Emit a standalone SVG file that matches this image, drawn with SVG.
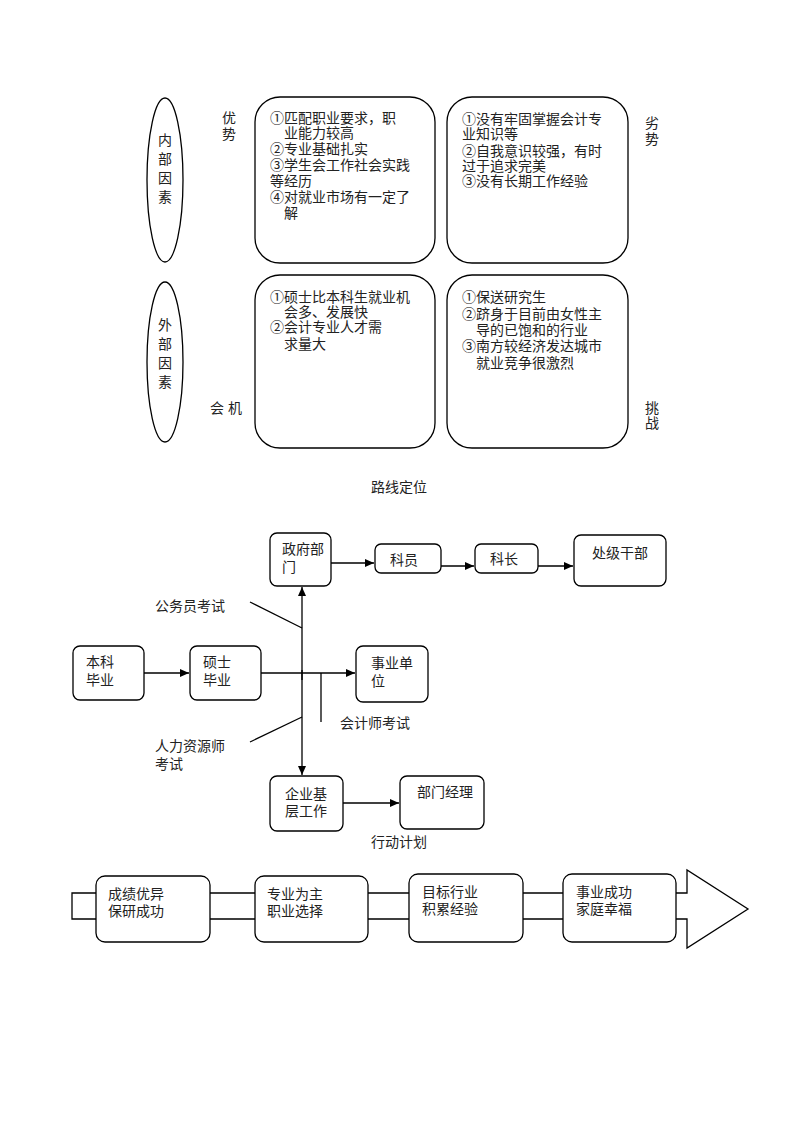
<svg xmlns="http://www.w3.org/2000/svg" width="800" height="1132" viewBox="0 0 800 1132">
<style>
text{font-family:"Liberation Sans","Noto Sans CJK SC",sans-serif;font-size:14px;fill:#222}
.b{fill:#fff;stroke:#000;stroke-width:1.3}
.l{stroke:#000;stroke-width:1.3;fill:none}
</style>
<defs><marker id="a" markerWidth="10" markerHeight="10" refX="9" refY="5" orient="auto" markerUnits="userSpaceOnUse"><path d="M0,1 L9,5 L0,9z" fill="#000"/></marker></defs>
<rect width="800" height="1132" fill="#fff"/>
<g id="internal"><ellipse class="b" cx="165" cy="180" rx="18" ry="82"/><text x="158" y="145">内</text><text x="158" y="164">部</text><text x="158" y="183">因</text><text x="158" y="202">素</text></g>
<g id="external"><ellipse class="b" cx="165" cy="362" rx="18" ry="80"/><text x="158" y="330">外</text><text x="158" y="349">部</text><text x="158" y="368">因</text><text x="158" y="387">素</text></g>
<g id="labels"><text x="222" y="123">优</text><text x="222" y="139">势</text><text x="645" y="128">劣</text><text x="645" y="144">势</text><text x="210" y="413">会 机</text><text x="645" y="413">挑</text><text x="645" y="428">战</text></g>
<g id="s"><rect class="b" x="255" y="97" width="180" height="166" rx="25"/><text x="270" y="123">①匹配职业要求，职</text><text x="284" y="138">业能力较高</text><text x="270" y="154">②专业基础扎实</text><text x="270" y="170">③学生会工作社会实践</text><text x="270" y="186">等经历</text><text x="270" y="202">④对就业市场有一定了</text><text x="284" y="218">解</text></g>
<g id="w"><rect class="b" x="447" y="97" width="181" height="166" rx="25"/><text x="462" y="124">①没有牢固掌握会计专</text><text x="462" y="139">业知识等</text><text x="462" y="156">②自我意识较强，有时</text><text x="462" y="171">过于追求完美</text><text x="462" y="186">③没有长期工作经验</text></g>
<g id="o"><rect class="b" x="255" y="275" width="180" height="173" rx="25"/><text x="270" y="302">①硕士比本科生就业机</text><text x="284" y="317">会多、发展快</text><text x="270" y="332">②会计专业人才需</text><text x="284" y="349">求量大</text></g>
<g id="t"><rect class="b" x="447" y="275" width="181" height="173" rx="25"/><text x="462" y="302">①保送研究生</text><text x="462" y="319">②跻身于目前由女性主</text><text x="476" y="335">导的已饱和的行业</text><text x="462" y="351">③南方较经济发达城市</text><text x="476" y="368">就业竞争很激烈</text></g>
<text x="371" y="492">路线定位</text>
<g id="connectors">
<line class="l" x1="331" y1="563" x2="374" y2="563" marker-end="url(#a)"/>
<line class="l" x1="441" y1="566" x2="474" y2="566" marker-end="url(#a)"/>
<line class="l" x1="538" y1="566" x2="573" y2="566" marker-end="url(#a)"/>
<line class="l" x1="144" y1="673" x2="189" y2="673" marker-end="url(#a)"/>
<line class="l" x1="261" y1="673" x2="355" y2="673" marker-end="url(#a)"/>
<line class="l" x1="302" y1="680" x2="302" y2="587" marker-end="url(#a)"/>
<line class="l" x1="302" y1="670" x2="302" y2="775" marker-end="url(#a)"/>
<line class="l" x1="321" y1="673" x2="321" y2="722"/>
<line class="l" x1="250" y1="602" x2="302" y2="628"/>
<line class="l" x1="250" y1="742" x2="302" y2="717"/>
<line class="l" x1="343" y1="803" x2="399" y2="803" marker-end="url(#a)"/>
</g>
<g id="gov"><rect class="b" x="270" y="533" width="61" height="53" rx="7"/><text x="282" y="554">政府部</text><text x="282" y="572">门</text></g>
<g id="ky"><rect class="b" x="375" y="544" width="66" height="29" rx="6"/><text x="390" y="565">科员</text></g>
<g id="kz"><rect class="b" x="475" y="544" width="63" height="29" rx="6"/><text x="490" y="564">科长</text></g>
<g id="cj"><rect class="b" x="574" y="535" width="92" height="51" rx="7"/><text x="592" y="558">处级干部</text></g>
<g id="bk"><rect class="b" x="73" y="646" width="71" height="54" rx="7"/><text x="86" y="667">本科</text><text x="86" y="685">毕业</text></g>
<g id="ss"><rect class="b" x="190" y="646" width="71" height="54" rx="7"/><text x="203" y="667">硕士</text><text x="203" y="685">毕业</text></g>
<g id="sy"><rect class="b" x="356" y="646" width="72" height="56" rx="7"/><text x="371" y="668">事业单</text><text x="371" y="686">位</text></g>
<g id="qy"><rect class="b" x="270" y="776" width="73" height="55" rx="7"/><text x="285" y="799">企业基</text><text x="285" y="816">层工作</text></g>
<g id="bm"><rect class="b" x="400" y="776" width="84" height="53" rx="7"/><text x="417" y="797">部门经理</text></g>
<text x="155" y="611">公务员考试</text>
<text x="155" y="751">人力资源师</text>
<text x="155" y="769">考试</text>
<text x="340" y="728">会计师考试</text>
<text x="371" y="847">行动计划</text>
<g id="bigarrow"><path class="b" d="M72,893 H687 V870 L748,909 L687,948 V919 H72 Z"/></g>
<g id="p1"><rect class="b" x="96" y="876" width="114" height="66" rx="9"/><text x="108" y="899">成绩优异</text><text x="108" y="916">保研成功</text></g>
<g id="p2"><rect class="b" x="255" y="876" width="113" height="66" rx="9"/><text x="267" y="899">专业为主</text><text x="267" y="916">职业选择</text></g>
<g id="p3"><rect class="b" x="409" y="874" width="114" height="68" rx="9"/><text x="422" y="897">目标行业</text><text x="422" y="914">积累经验</text></g>
<g id="p4"><rect class="b" x="563" y="874" width="113" height="68" rx="9"/><text x="576" y="897">事业成功</text><text x="576" y="914">家庭幸福</text></g>
</svg>
